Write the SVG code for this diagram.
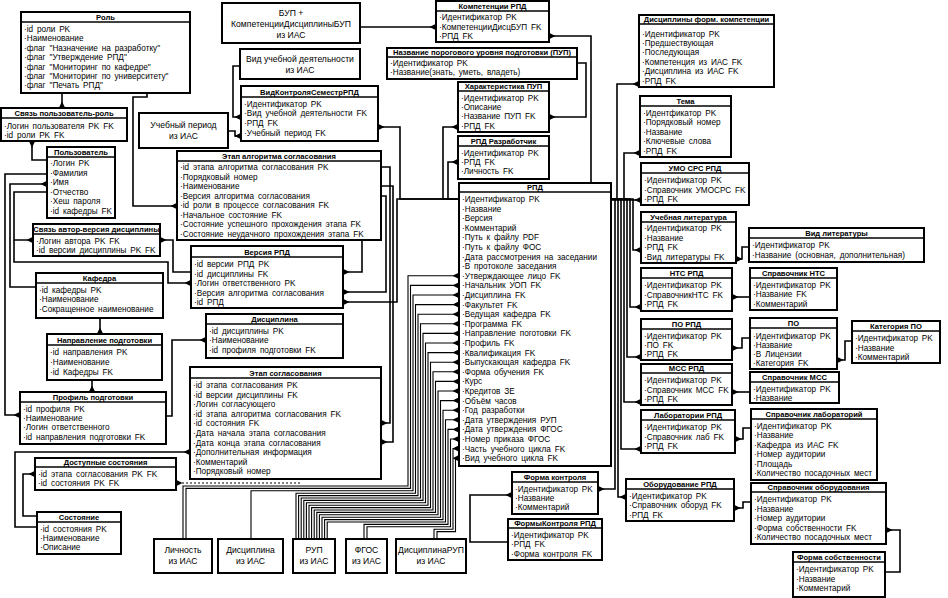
<svg xmlns="http://www.w3.org/2000/svg" width="948" height="598" viewBox="0 0 948 598">
<style>
.e rect{fill:#fff;stroke:#000;stroke-width:2}
.e line{stroke:#000;stroke-width:1.4}
.h{font-family:"Liberation Sans",Arial,sans-serif;font-weight:bold;font-size:7.6px;text-anchor:middle}
.r{font-family:"Liberation Sans",Arial,sans-serif;font-size:8.2px;word-spacing:1.6px}
.t{font-family:"Liberation Sans",Arial,sans-serif;font-size:8.6px;text-anchor:middle}
.c path{fill:none;stroke:#000;stroke-width:1.6;marker-end:url(#cf)}
.c path.s{stroke-width:1.1}
.c path.d{stroke-dasharray:2 2;stroke-width:1}
</style>
<defs>
<marker id="cf" viewBox="0 0 7 7" refX="7" refY="3.5" markerWidth="6.5" markerHeight="6.5" markerUnits="userSpaceOnUse" orient="auto"><path d="M7,0 L7,7 L0,3.5 Z" fill="#000"/></marker>
</defs>
<rect width="948" height="598" fill="#fff"/>

<g class="c" id="connectors">
<path d="M62,93 V108"/>
<path d="M47,160 H32 V141"/>
<path d="M147,93 V97 H133 V206 H177"/>
<path d="M47,174 H5 V415 H20"/>
<path d="M36,287 H10 V184 H47"/>
<path d="M47,192 H14 V240 H33"/>
<path d="M14,240 V262 H168 V283 H191"/>
<path d="M191,272 H173 V240 H160"/>
<path d="M100,318 V334"/>
<path d="M92,380 V392"/>
<path d="M166,416 H172 V340 H206"/>
<path d="M37,527 H15 V452 H190"/>
<path d="M37,516 H23 V474 H35"/>
<path class="d" d="M300,483 H176"/>
<path d="M240,66 H233 V117 H241"/>
<path d="M229,131 H235 V136 H241"/>
<path d="M459,199 H400 V127 H378"/>
<path d="M360,27 H436"/>
<path d="M591,183 V36 H549"/>
<path d="M577,63 H586 V117 H549"/>
<path d="M459,199 H443 V127 H458"/>
<path d="M459,199 H448 V162 H458"/>
<path d="M381,167 H390 V423 H381"/>
<path d="M381,186 H393 V442 H381"/>
<path d="M362,240 V272 H343"/>
<path d="M381,196 H386 V292 H343"/>
<path d="M459,199 H397 V302 H343"/>
<path d="M611,199 H617 V84 H639"/>
<path d="M611,199 H624 V153 H640"/>
<path d="M611,200 H641"/>
<path d="M611,199 H633 V250 H641"/>
<path d="M611,199 H630 V307 H641"/>
<path d="M611,199 H627 V357 H641"/>
<path d="M611,199 H624 V402 H641"/>
<path d="M611,199 H621 V449 H641"/>
<path d="M611,199 H618 V497 H626"/>
<path d="M611,199 H615 V489 H598"/>
<path d="M508,542 H470 V495 H512"/>
<path d="M749,247 H742 V259 H736"/>
<path d="M750,297 H732"/>
<path d="M750,338 H742 V348 H732"/>
<path d="M852,341 H845 V360 H837"/>
<path d="M750,392 H732"/>
<path d="M751,428 H743 V439 H735"/>
<path d="M751,502 H743 V508 H734"/>
<path d="M885,572 H900 V530 H886"/>
<path class="s" d="M183,539 V486 H408 V275.8 H459"/>
<path class="s" d="M186,539 V488.4 H410.5 V285.4 H459"/>
<path class="s" d="M251,539 V490.8 H413 V295 H459"/>
<path class="s" d="M296,539 V493.2 H415.5 V304.6 H459"/>
<path class="s" d="M298.6,539 V495.6 H418 V314.2 H459"/>
<path class="s" d="M301.2,539 V498 H420.5 V323.8 H459"/>
<path class="s" d="M303.8,539 V500.4 H423 V333.4 H459"/>
<path class="s" d="M306.4,539 V502.8 H425.5 V343 H459"/>
<path class="s" d="M309,539 V505.2 H428 V352.6 H459"/>
<path class="s" d="M311.6,539 V507.6 H430.5 V362.2 H459"/>
<path class="s" d="M314.2,539 V510 H433 V371.8 H459"/>
<path class="s" d="M316.8,539 V512.4 H435.5 V381.4 H459"/>
<path class="s" d="M319.4,539 V514.8 H438 V391 H459"/>
<path class="s" d="M322,539 V517.2 H440.5 V400.6 H459"/>
<path class="s" d="M324.6,539 V519.6 H443 V410.2 H459"/>
<path class="s" d="M327.2,539 V522 H445.5 V419.8 H459"/>
<path class="s" d="M364,539 V524.4 H448 V429.4 H459"/>
<path class="s" d="M367,539 V526.8 H450.5 V439 H459"/>
<path class="s" d="M434,539 V529.2 H453 V448.6 H459"/>
<path class="s" d="M437,539 V531.6 H455.5 V458.2 H459"/>
</g>

<g class="e" id="rol"><rect x="21" y="12" width="169" height="81"/><line x1="21" y1="22" x2="190" y2="22"/><text class="h" x="105.5" y="20">Роль</text>
<text class="r" y="32"><tspan x="24">·id роли PK</tspan><tspan x="24" dy="9.4">·Наименование</tspan><tspan x="24" dy="9.4">·флаг "Назначение на разработку"</tspan><tspan x="24" dy="9.4">·флаг "Утверждение РПД"</tspan><tspan x="24" dy="9.4">·флаг "Мониторинг по кафедре"</tspan><tspan x="24" dy="9.4">·флаг "Мониторинг по университету"</tspan><tspan x="24" dy="9.4">·флаг "Печать РПД"</tspan></text></g>

<g class="e" id="svyaz-polz-rol"><rect x="1" y="108" width="126" height="33"/><line x1="1" y1="118" x2="127" y2="118"/><text class="h" x="64" y="116">Связь пользователь-роль</text>
<text class="r" y="128.5"><tspan x="4">·Логин пользователя PK FK</tspan><tspan x="4" dy="9.5">·id роли PK FK</tspan></text></g>

<g class="e" id="polz"><rect x="47" y="147" width="68" height="71"/><line x1="47" y1="157" x2="115" y2="157"/><text class="h" x="81" y="155">Пользователь</text>
<text class="r" y="166"><tspan x="50">·Логин PK</tspan><tspan x="50" dy="9.6">·Фамилия</tspan><tspan x="50" dy="9.6">·Имя</tspan><tspan x="50" dy="9.6">·Отчество</tspan><tspan x="50" dy="9.6">·Хеш пароля</tspan><tspan x="50" dy="9.6">·id кафедры FK</tspan></text></g>

<g class="e" id="svyaz-avtor"><rect x="33" y="224" width="127" height="32"/><line x1="33" y1="234" x2="160" y2="234"/><text class="h" x="96.5" y="232">Связь автор-версия дисциплины</text>
<text class="r" y="243.5"><tspan x="36">·Логин автора PK FK</tspan><tspan x="36" dy="9.5">·id версии дисциплины PK FK</tspan></text></g>

<g class="e" id="kafedra"><rect x="36" y="273" width="127" height="45"/><line x1="36" y1="283" x2="163" y2="283"/><text class="h" x="99.5" y="281">Кафедра</text>
<text class="r" y="292.5"><tspan x="39">·id кафедры PK</tspan><tspan x="39" dy="9.8">·Наименование</tspan><tspan x="39" dy="9.8">·Сокращенное наименование</tspan></text></g>

<g class="e" id="napravlenie"><rect x="47" y="334" width="115" height="46"/><line x1="47" y1="345" x2="162" y2="345"/><text class="h" x="104.5" y="342.5">Направление подготовки</text>
<text class="r" y="355"><tspan x="50">·id направления PK</tspan><tspan x="50" dy="9.8">·Наименование</tspan><tspan x="50" dy="9.8">·id Кафедры FK</tspan></text></g>

<g class="e" id="profil"><rect x="20" y="392" width="146" height="52"/><line x1="20" y1="402" x2="166" y2="402"/><text class="h" x="93" y="400">Профиль подготовки</text>
<text class="r" y="411.5"><tspan x="23">·id профиля PK</tspan><tspan x="23" dy="9.4">·Наименование</tspan><tspan x="23" dy="9.4">·Логин ответственного</tspan><tspan x="23" dy="9.4">·id направления подготовки FK</tspan></text></g>

<g class="e" id="dostupnye"><rect x="35" y="458" width="141" height="32"/><line x1="35" y1="467" x2="176" y2="467"/><text class="h" x="105.5" y="465">Доступные состояния</text>
<text class="r" y="476.5"><tspan x="38">·id этапа согласования PK FK</tspan><tspan x="38" dy="9.4">·id состояния PK FK</tspan></text></g>

<g class="e" id="sostoyanie"><rect x="37" y="512" width="84" height="42"/><line x1="37" y1="522" x2="121" y2="522"/><text class="h" x="79" y="520">Состояние</text>
<text class="r" y="531.5"><tspan x="40">·id состояния PK</tspan><tspan x="40" dy="9.4">·Наименование</tspan><tspan x="40" dy="9.4">·Описание</tspan></text></g>

<g class="e" id="bup"><rect x="222" y="3" width="138" height="40"/><text class="t" y="16"><tspan x="291">БУП +</tspan><tspan x="291" dy="11">КомпетенцииДисциплиныБУП</tspan><tspan x="291" dy="11">из ИАС</tspan></text></g>

<g class="e" id="vid-uch-deyat"><rect x="240" y="49" width="120" height="30"/><text class="t" y="62"><tspan x="300">Вид учебной деятельности</tspan><tspan x="300" dy="11">из ИАС</tspan></text></g>

<g class="e" id="uch-period"><rect x="139" y="113" width="89" height="35"/><text class="t" y="128"><tspan x="183.5">Учебный период</tspan><tspan x="183.5" dy="11">из ИАС</tspan></text></g>

<g class="e" id="vid-kontrolya"><rect x="241" y="86" width="137" height="55"/><line x1="241" y1="97" x2="378" y2="97"/><text class="h" x="309.5" y="94.5">ВидКонтроляСеместрРПД</text>
<text class="r" y="106.5"><tspan x="244">·Идентификатор PK</tspan><tspan x="244" dy="9.8">·Вид учебной деятельности FK</tspan><tspan x="244" dy="9.8">·РПД FK</tspan><tspan x="244" dy="9.8">·Учебный период FK</tspan></text></g>

<g class="e" id="etap-algoritma"><rect x="177" y="151" width="204" height="89"/><line x1="177" y1="161" x2="381" y2="161"/><text class="h" x="279" y="159">Этап алгоритма согласования</text>
<text class="r" y="170"><tspan x="180">·id этапа алгоритма согласования PK</tspan><tspan x="180" dy="9.5">·Порядковый номер</tspan><tspan x="180" dy="9.5">·Наименование</tspan><tspan x="180" dy="9.5">·Версия алгоритма согласования</tspan><tspan x="180" dy="9.5">·id роли в процессе согласования FK</tspan><tspan x="180" dy="9.5">·Начальное состояние FK</tspan><tspan x="180" dy="9.5">·Состояние успешного прохождения этапа FK</tspan><tspan x="180" dy="9.5">·Состояние неудачного прохождения этапа FK</tspan></text></g>

<g class="e" id="versiya-rpd"><rect x="191" y="246" width="152" height="62"/><line x1="191" y1="257" x2="343" y2="257"/><text class="h" x="267" y="254.5">Версия РПД</text>
<text class="r" y="267"><tspan x="194">·id версии РПД PK</tspan><tspan x="194" dy="9.6">·id дисциплины FK</tspan><tspan x="194" dy="9.6">·Логин ответственного PK</tspan><tspan x="194" dy="9.6">·Версия алгоритма согласования</tspan><tspan x="194" dy="9.6">·id РПД</tspan></text></g>

<g class="e" id="disciplina"><rect x="206" y="314" width="137" height="44"/><line x1="206" y1="324" x2="343" y2="324"/><text class="h" x="274.5" y="322">Дисциплина</text>
<text class="r" y="333.5"><tspan x="209">·id дисциплины PK</tspan><tspan x="209" dy="9.7">·Наименование</tspan><tspan x="209" dy="9.7">·id профиля подготовки FK</tspan></text></g>

<g class="e" id="etap-soglasovaniya"><rect x="190" y="367" width="191" height="112"/><line x1="190" y1="378" x2="381" y2="378"/><text class="h" x="285.5" y="375.5">Этап согласования</text>
<text class="r" y="388"><tspan x="193">·id этапа согласования PK</tspan><tspan x="193" dy="9.6">·id версии дисциплины FK</tspan><tspan x="193" dy="9.6">·Логин согласующего</tspan><tspan x="193" dy="9.6">·id этапа алгоритма согласования FK</tspan><tspan x="193" dy="9.6">·id состояния FK</tspan><tspan x="193" dy="9.6">·Дата начала этапа согласования</tspan><tspan x="193" dy="9.6">·Дата конца этапа согласования</tspan><tspan x="193" dy="9.6">·Дополнительная информация</tspan><tspan x="193" dy="9.6">·Комментарий</tspan><tspan x="193" dy="9.6">·Порядковый номер</tspan></text></g>

<g class="e" id="kompetencii-rpd"><rect x="436" y="1" width="113" height="41"/><line x1="436" y1="11" x2="549" y2="11"/><text class="h" x="492.5" y="9">Компетенции РПД</text>
<text class="r" y="20"><tspan x="439">·Идентификатор PK</tspan><tspan x="439" dy="9.5">·КомпетенцииДисцБУП FK</tspan><tspan x="439" dy="9.5">·РПД FK</tspan></text></g>

<g class="e" id="pup"><rect x="387" y="48" width="190" height="31"/><line x1="387" y1="57" x2="577" y2="57"/><text class="h" x="482" y="55">Название порогового уровня подготовки (ПУП)</text>
<text class="r" y="66"><tspan x="390">·Идентификатор PK</tspan><tspan x="390" dy="9.3">·Название(знать, уметь, владеть)</tspan></text></g>

<g class="e" id="harakteristika-pup"><rect x="458" y="82" width="91" height="50"/><line x1="458" y1="91" x2="549" y2="91"/><text class="h" x="503.5" y="89">Характеристика ПУП</text>
<text class="r" y="100.5"><tspan x="461">·Идентификатор PK</tspan><tspan x="461" dy="9.4">·Описание</tspan><tspan x="461" dy="9.4">·Название ПУП FK</tspan><tspan x="461" dy="9.4">·РПД FK</tspan></text></g>

<g class="e" id="rpd-razrabotchik"><rect x="458" y="136" width="91" height="43"/><line x1="458" y1="146" x2="549" y2="146"/><text class="h" x="503.5" y="144">РПД Разработчик</text>
<text class="r" y="155.5"><tspan x="461">·Идентификатор PK</tspan><tspan x="461" dy="9.4">·РПД FK</tspan><tspan x="461" dy="9.4">·Личность FK</tspan></text></g>

<g class="e" id="rpd"><rect x="459" y="183" width="152" height="283"/><line x1="459" y1="192" x2="611" y2="192"/><text class="h" x="535" y="190">РПД</text>
<text class="r" y="202"><tspan x="462">·Идентификатор PK</tspan><tspan x="462" dy="9.6">·Название</tspan><tspan x="462" dy="9.6">·Версия</tspan><tspan x="462" dy="9.6">·Комментарий</tspan><tspan x="462" dy="9.6">·Путь к файлу PDF</tspan><tspan x="462" dy="9.6">·Путь к файлу ФОС</tspan><tspan x="462" dy="9.6">·Дата рассмотрения на заседании</tspan><tspan x="462" dy="9.6">·В протоколе заседания</tspan><tspan x="462" dy="9.6">·Утверждающее лицо FK</tspan><tspan x="462" dy="9.6">·Начальник УОП FK</tspan><tspan x="462" dy="9.6">·Дисциплина FK</tspan><tspan x="462" dy="9.6">·Факультет  FK</tspan><tspan x="462" dy="9.6">·Ведущая кафедра FK</tspan><tspan x="462" dy="9.6">·Программа FK</tspan><tspan x="462" dy="9.6">·Направление поготовки FK</tspan><tspan x="462" dy="9.6">·Профиль FK</tspan><tspan x="462" dy="9.6">·Квалификация FK</tspan><tspan x="462" dy="9.6">·Выпускающая кафедра FK</tspan><tspan x="462" dy="9.6">·Форма обучения FK</tspan><tspan x="462" dy="9.6">·Курс</tspan><tspan x="462" dy="9.6">·Кредитов ЗЕ</tspan><tspan x="462" dy="9.6">·Объём часов</tspan><tspan x="462" dy="9.6">·Год разработки</tspan><tspan x="462" dy="9.6">·Дата утверждения РУП</tspan><tspan x="462" dy="9.6">·Дата утверждения ФГОС</tspan><tspan x="462" dy="9.6">·Номер приказа ФГОС</tspan><tspan x="462" dy="9.6">·Часть учебного цикла FK</tspan><tspan x="462" dy="9.6">·Вид учебного цикла FK</tspan></text></g>

<g class="e" id="forma-kontrolya"><rect x="512" y="472" width="86" height="42"/><line x1="512" y1="482" x2="598" y2="482"/><text class="h" x="555" y="480">Форма контроля</text>
<text class="r" y="491.5"><tspan x="515">·Идентификатор PK</tspan><tspan x="515" dy="9.3">·Название</tspan><tspan x="515" dy="9.3">·Комментарий</tspan></text></g>

<g class="e" id="formy-kontrolya-rpd"><rect x="508" y="519" width="94" height="41"/><line x1="508" y1="528" x2="602" y2="528"/><text class="h" x="555" y="526">ФормыКонтроля РПД</text>
<text class="r" y="538"><tspan x="511">·Идентификатор PK</tspan><tspan x="511" dy="9.3">·РПД FK</tspan><tspan x="511" dy="9.3">·Форма контроля FK</tspan></text></g>

<g class="e" id="disc-form-komp"><rect x="639" y="15" width="135" height="72"/><line x1="639" y1="24" x2="774" y2="24"/><text class="h" x="706.5" y="22">Дисциплины форм. компетенции</text>
<text class="r" y="36.5"><tspan x="642">·Идентификатор PK</tspan><tspan x="642" dy="9.4">·Предшествующая</tspan><tspan x="642" dy="9.4">·Последующая</tspan><tspan x="642" dy="9.4">·Компетенция из ИАС FK</tspan><tspan x="642" dy="9.4">·Дисциплина из ИАС FK</tspan><tspan x="642" dy="9.4">·РПД FK</tspan></text></g>

<g class="e" id="tema"><rect x="640" y="96" width="91" height="61"/><line x1="640" y1="106" x2="731" y2="106"/><text class="h" x="685.5" y="104">Тема</text>
<text class="r" y="116"><tspan x="643">·Идентфикатор PK</tspan><tspan x="643" dy="9.4">·Порядковый номер</tspan><tspan x="643" dy="9.4">·Название</tspan><tspan x="643" dy="9.4">·Ключевые слова</tspan><tspan x="643" dy="9.4">·РПД FK</tspan></text></g>

<g class="e" id="umo-srs-rpd"><rect x="641" y="163" width="108" height="42"/><line x1="641" y1="173" x2="749" y2="173"/><text class="h" x="695" y="171">УМО СРС РПД</text>
<text class="r" y="183"><tspan x="644">·Идентификатор PK</tspan><tspan x="644" dy="9.5">·Справочник УМОСРС FK</tspan><tspan x="644" dy="9.5">·РПД FK</tspan></text></g>

<g class="e" id="uch-literatura"><rect x="641" y="212" width="95" height="51"/><line x1="641" y1="222" x2="736" y2="222"/><text class="h" x="688.5" y="220">Учебная литература</text>
<text class="r" y="231"><tspan x="644">·Идентификатор PK</tspan><tspan x="644" dy="9.5">·Название</tspan><tspan x="644" dy="9.5">·РПД FK</tspan><tspan x="644" dy="9.5">·Вид литературы FK</tspan></text></g>

<g class="e" id="vid-literatury"><rect x="749" y="228" width="175" height="34"/><line x1="749" y1="238" x2="924" y2="238"/><text class="h" x="836.5" y="236">Вид литературы</text>
<text class="r" y="248"><tspan x="752">·Идентификатор PK</tspan><tspan x="752" dy="9.8">·Название (основная, дополнительная)</tspan></text></g>

<g class="e" id="nts-rpd"><rect x="641" y="268" width="91" height="43"/><line x1="641" y1="278" x2="732" y2="278"/><text class="h" x="686.5" y="276">НТС РПД</text>
<text class="r" y="288"><tspan x="644">·Идентификатор PK</tspan><tspan x="644" dy="9.5">·СправочникНТС FK</tspan><tspan x="644" dy="9.5">·РПД FK</tspan></text></g>

<g class="e" id="spr-nts"><rect x="750" y="268" width="87" height="42"/><line x1="750" y1="278" x2="837" y2="278"/><text class="h" x="793.5" y="276">Справочник НТС</text>
<text class="r" y="288"><tspan x="753">·Идентификатор PK</tspan><tspan x="753" dy="9.3">·Название FK</tspan><tspan x="753" dy="9.3">·Комментарий</tspan></text></g>

<g class="e" id="po-rpd"><rect x="641" y="319" width="91" height="41"/><line x1="641" y1="329" x2="732" y2="329"/><text class="h" x="686.5" y="327">ПО РПД</text>
<text class="r" y="339"><tspan x="644">·Идентификатор PK</tspan><tspan x="644" dy="9.2">·ПО FK</tspan><tspan x="644" dy="9.2">·РПД FK</tspan></text></g>

<g class="e" id="po"><rect x="750" y="318" width="87" height="51"/><line x1="750" y1="328" x2="837" y2="328"/><text class="h" x="793.5" y="326">ПО</text>
<text class="r" y="338.5"><tspan x="753">·Идентификатор PK</tspan><tspan x="753" dy="9.2">·Название</tspan><tspan x="753" dy="9.2">·В Лицензии</tspan><tspan x="753" dy="9.2">·Категория FK</tspan></text></g>

<g class="e" id="kategoriya-po"><rect x="852" y="321" width="88" height="42"/><line x1="852" y1="331" x2="940" y2="331"/><text class="h" x="896" y="329">Категория ПО</text>
<text class="r" y="341"><tspan x="855">·Идентификатор PK</tspan><tspan x="855" dy="9.5">·Название</tspan><tspan x="855" dy="9.5">·Комментарий</tspan></text></g>

<g class="e" id="mss-rpd"><rect x="641" y="364" width="91" height="41"/><line x1="641" y1="373" x2="732" y2="373"/><text class="h" x="686.5" y="371">МСС РПД</text>
<text class="r" y="383"><tspan x="644">·Идентификатор PK</tspan><tspan x="644" dy="9.5">·Справочник МСС FK</tspan><tspan x="644" dy="9.5">·РПД FK</tspan></text></g>

<g class="e" id="spr-mss"><rect x="750" y="372" width="89" height="31"/><line x1="750" y1="382" x2="839" y2="382"/><text class="h" x="794.5" y="380">Справочник МСС</text>
<text class="r" y="392"><tspan x="753">·Идентификатор PK</tspan><tspan x="753" dy="9.3">·Название</tspan></text></g>

<g class="e" id="lab-rpd"><rect x="641" y="410" width="94" height="43"/><line x1="641" y1="420" x2="735" y2="420"/><text class="h" x="688" y="418">Лаборатории РПД</text>
<text class="r" y="430"><tspan x="644">·Идентификатор PK</tspan><tspan x="644" dy="9.5">·Справочник лаб FK</tspan><tspan x="644" dy="9.5">·РПД FK</tspan></text></g>

<g class="e" id="spr-lab"><rect x="751" y="409" width="126" height="71"/><line x1="751" y1="419" x2="877" y2="419"/><text class="h" x="814" y="417">Справочник лабораторий</text>
<text class="r" y="428.5"><tspan x="754">·Идентификатор PK</tspan><tspan x="754" dy="9.5">·Название</tspan><tspan x="754" dy="9.5">·Кафедра из ИАС FK</tspan><tspan x="754" dy="9.5">·Номер аудитории</tspan><tspan x="754" dy="9.5">·Площадь</tspan><tspan x="754" dy="9.5">·Количество посадочных мест</tspan></text></g>

<g class="e" id="obor-rpd"><rect x="626" y="479" width="108" height="42"/><line x1="626" y1="489" x2="734" y2="489"/><text class="h" x="680" y="487">Оборудование РПД</text>
<text class="r" y="499"><tspan x="629">·Идентификатор PK</tspan><tspan x="629" dy="9.3">·Справочник оборуд FK</tspan><tspan x="629" dy="9.3">·РПД FK</tspan></text></g>

<g class="e" id="spr-obor"><rect x="751" y="483" width="135" height="61"/><line x1="751" y1="492" x2="886" y2="492"/><text class="h" x="818.5" y="490">Справочник оборудования</text>
<text class="r" y="502"><tspan x="754">·Идентификатор PK</tspan><tspan x="754" dy="9.5">·Название</tspan><tspan x="754" dy="9.5">·Номер аудитории</tspan><tspan x="754" dy="9.5">·Форма собственности FK</tspan><tspan x="754" dy="9.5">·Количество посадочных мест</tspan></text></g>

<g class="e" id="forma-sobstv"><rect x="793" y="552" width="92" height="45"/><line x1="793" y1="562" x2="885" y2="562"/><text class="h" x="839" y="560">Форма собственности</text>
<text class="r" y="572"><tspan x="796">·Идентификатор PK</tspan><tspan x="796" dy="9.5">·Название</tspan><tspan x="796" dy="9.5">·Комментарий</tspan></text></g>

<g class="e" id="lichnost-ias"><rect x="154" y="539" width="58" height="34"/><text class="t" y="553"><tspan x="183">Личность</tspan><tspan x="183" dy="11">из ИАС</tspan></text></g>
<g class="e" id="disciplina-ias"><rect x="218" y="539" width="65" height="34"/><text class="t" y="553"><tspan x="250.5">Дисциплина</tspan><tspan x="250.5" dy="11">из ИАС</tspan></text></g>
<g class="e" id="rup-ias"><rect x="293" y="539" width="42" height="34"/><text class="t" y="553"><tspan x="314">РУП</tspan><tspan x="314" dy="11">из ИАС</tspan></text></g>
<g class="e" id="fgos-ias"><rect x="346" y="539" width="41" height="34"/><text class="t" y="553"><tspan x="366.5">ФГОС</tspan><tspan x="366.5" dy="11">из ИАС</tspan></text></g>
<g class="e" id="disciplinarup-ias"><rect x="396" y="539" width="70" height="34"/><text class="t" y="553"><tspan x="431">ДисциплинаРУП</tspan><tspan x="431" dy="11">из ИАС</tspan></text></g>
</svg>
